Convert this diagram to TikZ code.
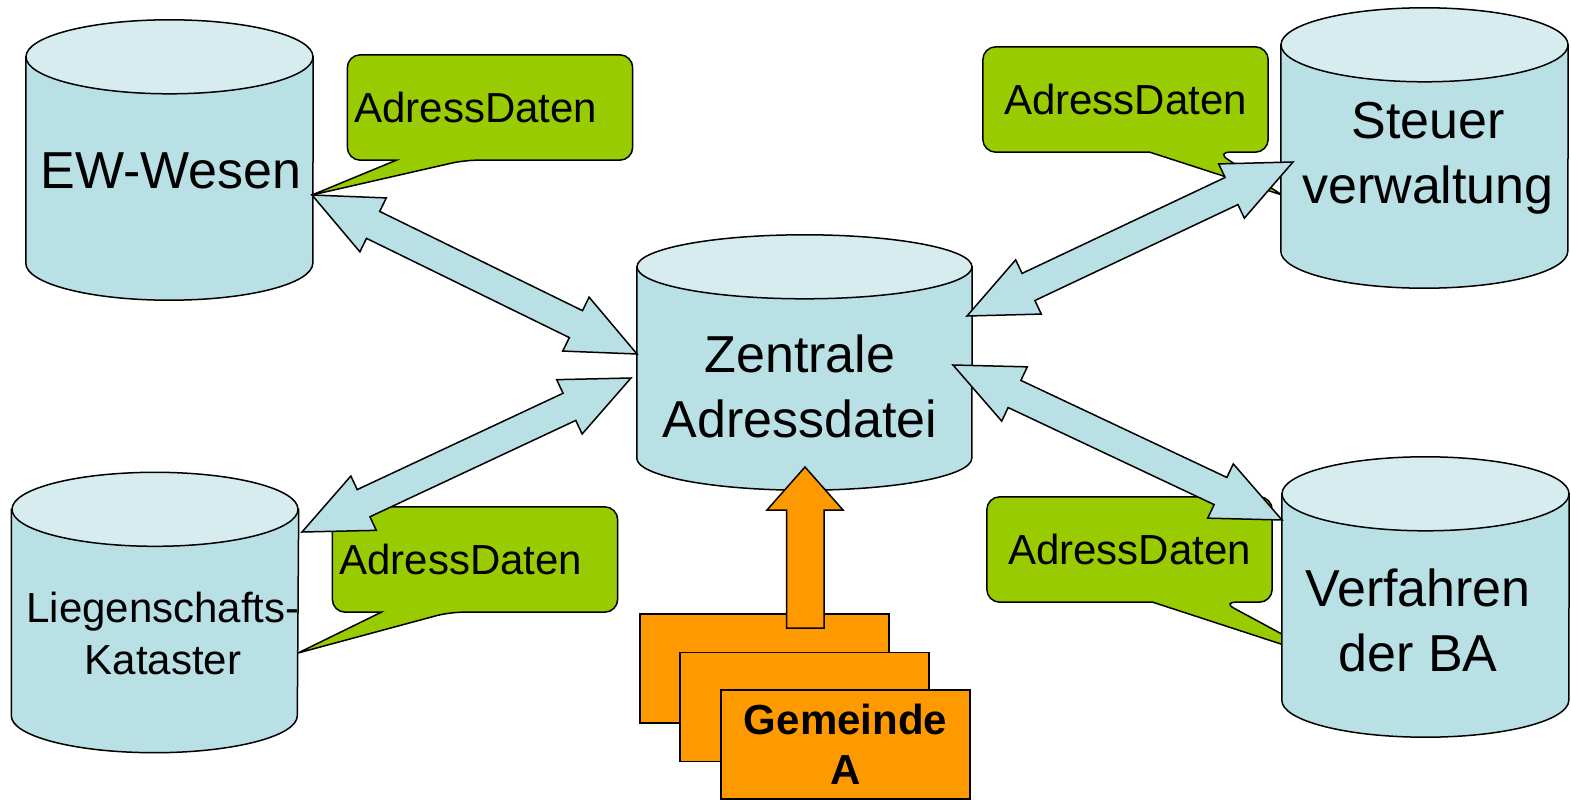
\documentclass[tikz,border=0pt]{standalone}
\usepackage{fontspec}
\setmainfont{Liberation Sans}
\usetikzlibrary{calc,backgrounds}

\definecolor{dbbody}{RGB}{185,224,228}
\definecolor{dbtop}{RGB}{214,236,239}
\definecolor{bubblegreen}{RGB}{153,204,0}
\definecolor{gemorange}{RGB}{255,153,0}

\tikzset{
  db/.style={rectangle, inner sep=0pt, minimum width=287pt, minimum height=280pt},
  dbline/.style={draw, line width=1.5pt},
  dbtext/.style={font=\fontsize{52}{65}\selectfont, align=center, inner sep=0pt},
  bubble/.style={minimum height=105pt, text width=271pt, inner xsep=7pt, inner ysep=0pt,
    font=\fontsize{42}{52}\selectfont},
  bubbleline/.style={draw, fill=bubblegreen, line width=1.5pt},
  link/.style={draw, fill=dbbody, line width=1.5pt, line join=miter},
  gem/.style={draw, fill=gemorange, line width=1.5pt, minimum width=249pt,
    minimum height=109pt, inner sep=0pt},
}

% cylinder drawn round a node: node, x radius, y radius of the ends
\newcommand\dbdraw[3]{%
  \draw[dbline, fill=dbbody] ([yshift=-#3]#1.north west) -- ([yshift=#3]#1.south west)
    arc[start angle=180, end angle=360, x radius=#2, y radius=#3]
    -- ([yshift=-#3]#1.north east) -- cycle;
  \draw[dbline, fill=dbtop] ([yshift=-#3]#1.north) ellipse[x radius=#2, y radius=#3];}

% double block arrow between two points
\newcommand\linkarrow[2]{%
  \draw[link] (#1) -- ($(#1)!68pt!(#2)!30pt!90:(#2)$) -- ($(#1)!68pt!(#2)!15pt!90:(#2)$)
    -- ($(#2)!68pt!(#1)!15pt!-90:(#1)$) -- ($(#2)!68pt!(#1)!30pt!-90:(#1)$) -- (#2)
    -- ($(#2)!68pt!(#1)!30pt!90:(#1)$) -- ($(#2)!68pt!(#1)!15pt!90:(#1)$)
    -- ($(#1)!68pt!(#2)!15pt!-90:(#2)$) -- ($(#1)!68pt!(#2)!30pt!-90:(#2)$) -- cycle;}

% speech bubble outline round a node
\newcommand\bubbleoutline[4]{%
  \draw[bubbleline] (#1.west) [rounded corners=13pt] -- (#1.north west) -- (#1.north east)
    -- (#1.south east) -- ([xshift=#3]#1.south west) [sharp corners] -- (#4)
    -- ([xshift=#2]#1.south west) [rounded corners=13pt] -- (#1.south west) -- cycle;}

\begin{document}
\begin{tikzpicture}[x=1pt, y=-1pt]
  \useasboundingbox (0,0) rectangle (1571,800);

  % ports of the arrows
  \coordinate (ew-port) at (312,195);
  \coordinate (za-nw) at (637,354);
  \coordinate (za-ne) at (967,316);
  \coordinate (st-port) at (1293,162);
  \coordinate (lk-port) at (302,532);
  \coordinate (za-sw) at (631,378);
  \coordinate (za-se) at (953,365);
  \coordinate (vb-port) at (1282,520);

  % speech bubbles
  \node[bubble, align=left] (b-ew) at (490,107.5) {AdressDaten};
  \node[bubble, align=center] (b-st) at (1125.5,99.5) {AdressDaten};
  \node[bubble, align=left] (b-lk) at (475,559.5) {AdressDaten};
  \node[bubble, align=center] (b-vb) at (1129.5,549.5) {AdressDaten};
  \begin{scope}[on background layer]
    \bubbleoutline{b-ew}{49pt}{117pt}{ew-port}
    \bubbleoutline{b-st}{167pt}{234pt}{1282,195}
    \bubbleoutline{b-lk}{49pt}{117pt}{298,653}
    \bubbleoutline{b-vb}{166pt}{236pt}{1330,660}
  \end{scope}

  % data stores
  \node[db] (ew) at (169.5,160) {};
  \node[db, minimum width=335pt, minimum height=255pt] (za) at (804.5,362.5) {};
  \node[db] (st) at (1424.5,148) {};
  \node[db] (lk) at (155,612.5) {};
  \node[db] (vb) at (1425.5,597) {};
  \dbdraw{ew}{143.5pt}{37pt}
  \dbdraw{za}{167.5pt}{32pt}
  \dbdraw{st}{143.5pt}{37pt}
  \dbdraw{lk}{143pt}{37pt}
  \dbdraw{vb}{143.5pt}{37pt}

  \node[dbtext, anchor=base] (ew-text) at (171,188) {EW-Wesen};
  \node[dbtext, anchor=north] (za-text) at (800,335) {Zentrale\\Adressdatei};
  \node[dbtext, anchor=north] (st-text) at (1428,102) {Steuer\\verwaltung};
  \node[dbtext, anchor=north, font=\fontsize{42}{52}\selectfont] (lk-text) at (163,592) {Liegenschafts-\\Kataster};
  \node[dbtext, anchor=north] (vb-text) at (1418,569) {Verfahren\\der BA};

  % exchange arrows
  \linkarrow{ew-port}{za-nw}
  \linkarrow{za-ne}{st-port}
  \linkarrow{lk-port}{za-sw}
  \linkarrow{za-se}{vb-port}

  % Gemeinden
  \node[gem] (g1) at (764.5,668.5) {};
  \coordinate (g-tail) at (805,628);
  \coordinate (za-in) at (805,467);
  \draw[fill=gemorange, line width=1.5pt] (za-in) -- ++(38,43) -- ++(-19,0) |- (g-tail)
    -- ++(-18.5,0) |- ($(za-in)+(-38,43)$) -- cycle;
  \node[gem] (g2) at (804.5,707) {};
  \node[gem, font=\bfseries\fontsize{42}{50}\selectfont, align=center] (g3) at (845.5,744.5) {Gemeinde\\A};
\end{tikzpicture}
\end{document}
